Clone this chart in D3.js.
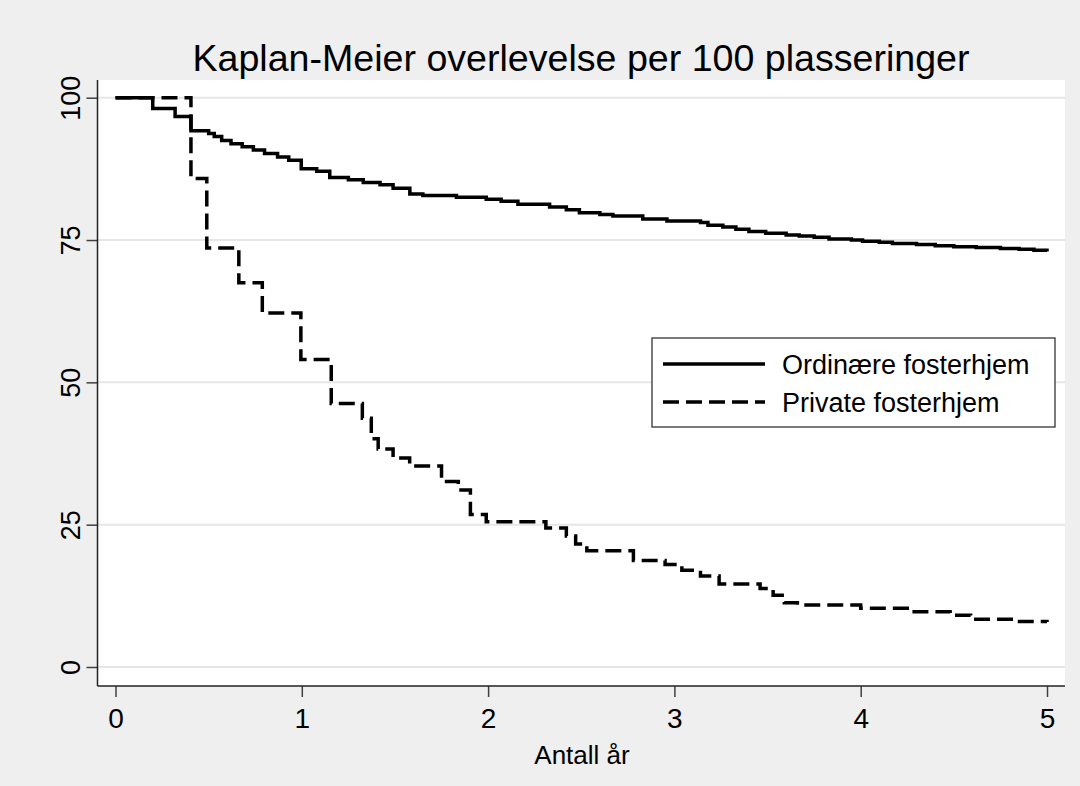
<!DOCTYPE html>
<html>
<head>
<meta charset="utf-8">
<script src="https://cdn.jsdelivr.net/npm/d3@7/dist/d3.min.js"></script>
<style>
  html, body { margin: 0; padding: 0; background: #efefef; }
  svg { display: block; font-family: "Liberation Sans", Arial, sans-serif; }
</style>
</head>
<body>
<svg id="chart" width="1080" height="786"></svg>
<script>
// ---- data ----
const title = "Kaplan-Meier overlevelse per 100 plasseringer";
const xLabel = "Antall år";
const seriesNames = ["Ordinære fosterhjem", "Private fosterhjem"];
const xTicks = [0, 1, 2, 3, 4, 5];
const yTicks = [0, 25, 50, 75, 100];

const ordTime = [0, 0.20, 0.32, 0.405, 0.50, 0.53, 0.57, 0.62, 0.68, 0.74, 0.80, 0.87, 0.93, 0.997, 1.08, 1.15, 1.25, 1.33, 1.42, 1.49, 1.58, 1.65, 1.83, 1.99, 2.07, 2.16, 2.33, 2.42, 2.49, 2.60, 2.67, 2.83, 2.96, 3.14, 3.18, 3.26, 3.33, 3.40, 3.49, 3.60, 3.67, 3.75, 3.83, 3.95, 4.01, 4.10, 4.17, 4.30, 4.40, 4.50, 4.62, 4.75, 4.85, 4.93, 5.00];
const ordValue = [100, 98.1, 96.7, 94.2, 93.7, 93.2, 92.5, 91.9, 91.4, 90.8, 90.2, 89.6, 89.0, 87.5, 87.1, 86.0, 85.6, 85.1, 84.7, 84.1, 83.1, 82.8, 82.5, 82.15, 81.8, 81.3, 80.8, 80.3, 79.8, 79.5, 79.2, 78.7, 78.35, 78.1, 77.6, 77.3, 76.9, 76.5, 76.2, 75.9, 75.7, 75.5, 75.2, 75.0, 74.8, 74.6, 74.4, 74.2, 74.0, 73.8, 73.7, 73.5, 73.4, 73.2, 73.0];

const privTime = [0, 0.405, 0.49, 0.662, 0.788, 0.995, 1.158, 1.325, 1.373, 1.41, 1.49, 1.579, 1.75, 1.84, 1.905, 1.99, 2.31, 2.42, 2.47, 2.53, 2.78, 2.95, 3.04, 3.14, 3.24, 3.46, 3.53, 3.59, 3.66, 4.00, 4.25, 4.48, 4.59, 4.84, 5.00];
const privValue = [100, 85.8, 73.6, 67.5, 62.2, 54.0, 46.3, 43.7, 40.1, 38.3, 36.7, 35.3, 32.6, 31.1, 26.8, 25.5, 24.4, 23.0, 21.6, 20.4, 18.7, 18.0, 17.0, 16.0, 14.6, 13.8, 12.6, 11.3, 10.9, 10.3, 9.7, 9.1, 8.4, 8.0, 7.9];

// ---- layout ----
const svg = d3.select("#chart");
const plot = { left: 97.5, right: 1065, top: 80, bottom: 686 };
const x = d3.scaleLinear().domain([0, 5]).range([115.5, 1047]);
const y = d3.scaleLinear().domain([0, 100]).range([667, 97.7]);

svg.append("rect").attr("width", 1080).attr("height", 786).attr("fill", "#efefef");
svg.append("rect")
  .attr("x", plot.left).attr("y", plot.top)
  .attr("width", plot.right - plot.left).attr("height", plot.bottom - plot.top)
  .attr("fill", "#ffffff");

// grid
svg.append("g").selectAll("line").data(yTicks).join("line")
  .attr("x1", plot.left).attr("x2", plot.right)
  .attr("y1", d => y(d)).attr("y2", d => y(d))
  .attr("stroke", "#e6e6e6").attr("stroke-width", 2);

// axes
const yAxis = svg.append("g").attr("transform", `translate(${plot.left},0)`)
  .call(d3.axisLeft(y).tickValues(yTicks).tickSize(11).tickPadding(16).tickFormat(d3.format("d")));
yAxis.select(".domain").remove();
yAxis.selectAll(".tick line").attr("stroke", "#404040").attr("stroke-width", 1.5);
yAxis.selectAll(".tick text")
  .attr("font-size", 27).attr("fill", "#000")
  .attr("x", null).attr("dy", null)
  .attr("text-anchor", "middle")
  .attr("transform", "translate(-18,0) rotate(-90)")
  .attr("y", 0);

const xAxis = svg.append("g").attr("transform", `translate(0,${plot.bottom})`)
  .call(d3.axisBottom(x).tickValues(xTicks).tickSize(11).tickPadding(11).tickFormat(d3.format("d")));
xAxis.select(".domain").remove();
xAxis.selectAll(".tick line").attr("stroke", "#404040").attr("stroke-width", 1.5);
xAxis.selectAll(".tick text").attr("font-size", 28).attr("fill", "#000");

svg.append("line").attr("x1", plot.left).attr("x2", plot.left)
  .attr("y1", plot.top).attr("y2", plot.bottom).attr("stroke", "#222").attr("stroke-width", 1.5);
svg.append("line").attr("x1", plot.left).attr("x2", plot.right)
  .attr("y1", plot.bottom).attr("y2", plot.bottom).attr("stroke", "#222").attr("stroke-width", 1.5);

// titles
svg.append("text").attr("x", 581).attr("y", 71).attr("text-anchor", "middle")
  .attr("font-size", 37.6).attr("fill", "#000").text(title);
svg.append("text").attr("x", 582).attr("y", 764).attr("text-anchor", "middle")
  .attr("font-size", 26).attr("fill", "#000").text(xLabel);

// lines
const line = d3.line().x(d => x(d[0])).y(d => y(d[1])).curve(d3.curveStepAfter);
const ordData = ordTime.map((t, i) => [t, ordValue[i]]);
const privData = privTime.map((t, i) => [t, privValue[i]]);

svg.append("path").datum(ordData).attr("d", line)
  .attr("fill", "none").attr("stroke", "#000").attr("stroke-width", 3.5);
svg.append("path").datum(privData).attr("d", line)
  .attr("fill", "none").attr("stroke", "#000").attr("stroke-width", 3.5)
  .attr("stroke-dasharray", "16,7");

// legend
const lg = svg.append("g");
lg.append("rect").attr("x", 652).attr("y", 338).attr("width", 403).attr("height", 89)
  .attr("fill", "#fff").attr("stroke", "#333").attr("stroke-width", 1.3);
const legendRows = [{ name: seriesNames[0], dash: null, y: 364 }, { name: seriesNames[1], dash: "16,7", y: 402 }];
legendRows.forEach(r => {
  lg.append("line").attr("x1", 663).attr("x2", 765).attr("y1", r.y).attr("y2", r.y)
    .attr("stroke", "#000").attr("stroke-width", 3.5)
    .attr("stroke-dasharray", r.dash);
  lg.append("text").attr("x", 782).attr("y", r.y + 10).attr("font-size", 27).attr("fill", "#000").text(r.name);
});
</script>
</body>
</html>
